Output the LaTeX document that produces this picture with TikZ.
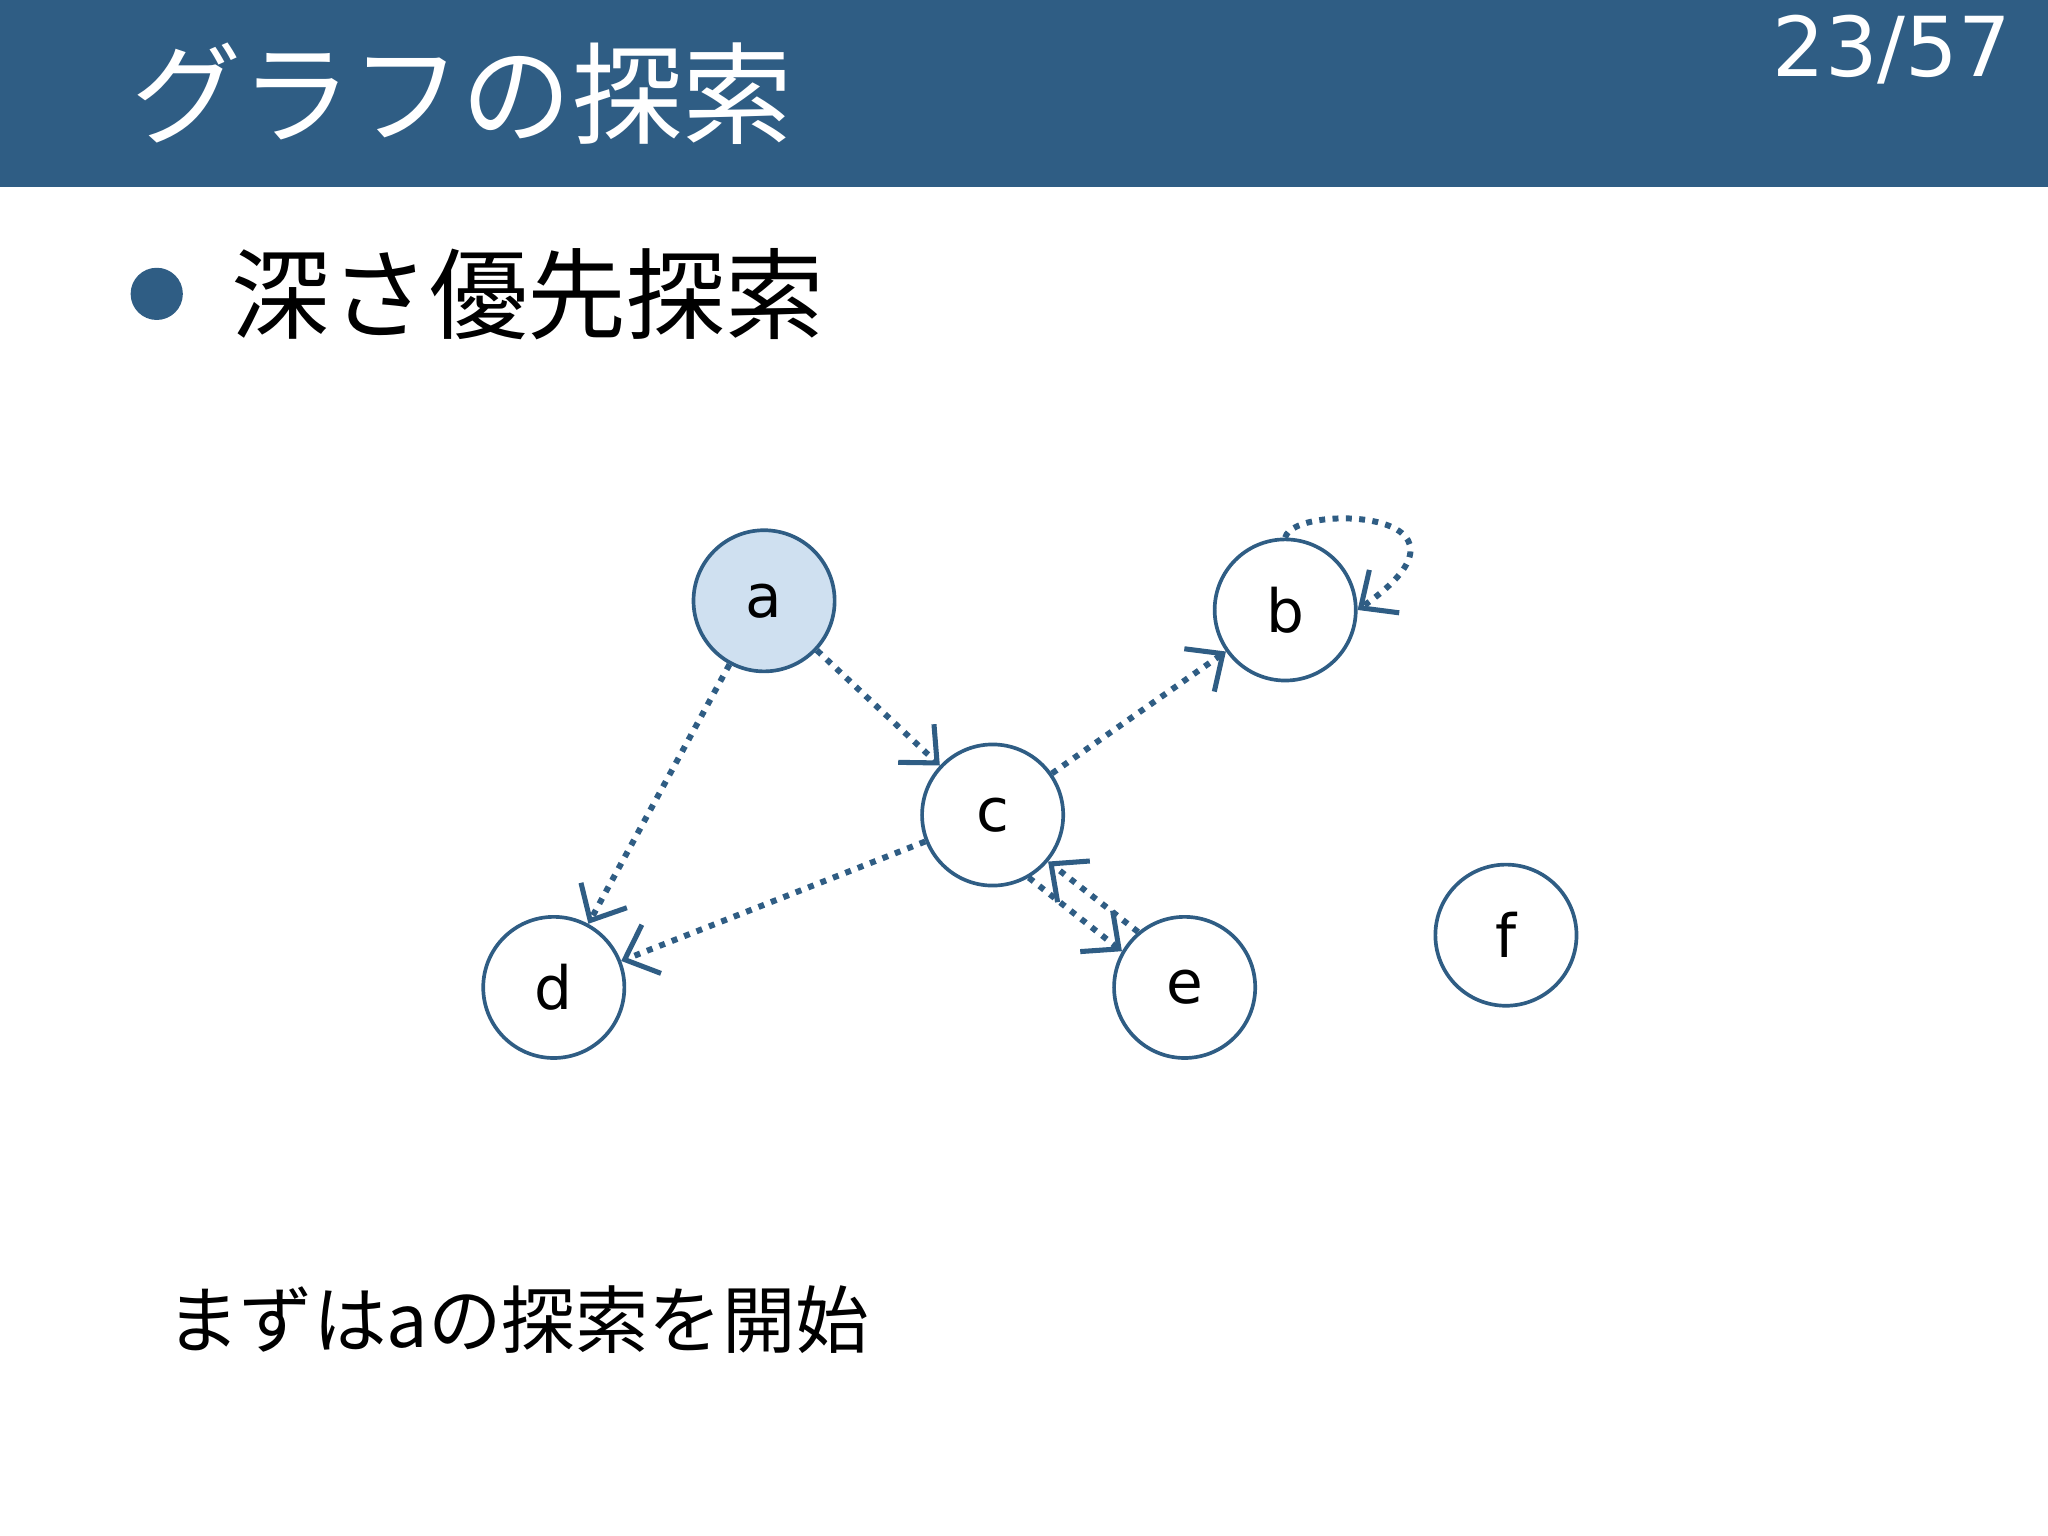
\documentclass[tikz,border=0pt]{standalone}
\usepackage{fontspec}
\setmainfont{DejaVu Sans}
\newfontfamily\cjk{Noto Sans CJK JP}
\usetikzlibrary{arrows.meta}
\definecolor{hdr}{HTML}{2F5D84}
\definecolor{nfill}{HTML}{CFE0F0}
\begin{document}
\begin{tikzpicture}[x=0.01cm,y=-0.01cm,
  vtx/.style={circle,draw=hdr,line width=0.8pt,minimum size=1.08cm,inner sep=0pt,font=\fontsize{13}{15}\selectfont},
  edg/.style={hdr,line width=1.3pt,dash pattern=on 1.3pt off 1.6pt,-{Straight Barb[length=2.2mm,width=4mm,line width=1.1pt]}}]
\useasboundingbox (0,0) rectangle (1568,1176);
\fill[hdr] (0,0) rectangle (1568,143);
\node[anchor=west,white,font=\cjk\fontsize{24}{28}\selectfont] (title) at (88,72) {グラフの探索};
\node[anchor=east,white,font=\fontsize{18}{22}\selectfont] (pg) at (1552,38) {23/57};
\fill[hdr] (120,225) circle (20);
\node[anchor=west,font=\cjk\fontsize{21.5}{26}\selectfont] (sub) at (165,225) {深さ優先探索};
\node[vtx,fill=nfill] (a) at (585,460) {a};
\node[vtx] (b) at (984,467) {b};
\node[vtx] (c) at (760,624) {c};
\node[vtx] (d) at (424,756) {d};
\node[vtx] (e) at (907,756) {e};
\node[vtx] (f) at (1153,716) {f};
\draw[edg] (a) -- (c);
\draw[edg] (a) -- (d);
\draw[edg] (c) -- (b);
\draw[edg] (c) -- (d);
\draw[edg] (c.-60) -- (e.150);
\draw[edg] (e.130) -- (c.-40);
\draw[edg] (b.90) .. controls (990,385) and (1150,390) .. (b.0);
\node[anchor=west,font=\cjk\fontsize{16}{20}\selectfont] (cap) at (115,1010) {まずはaの探索を開始};
\end{tikzpicture}
\end{document}
